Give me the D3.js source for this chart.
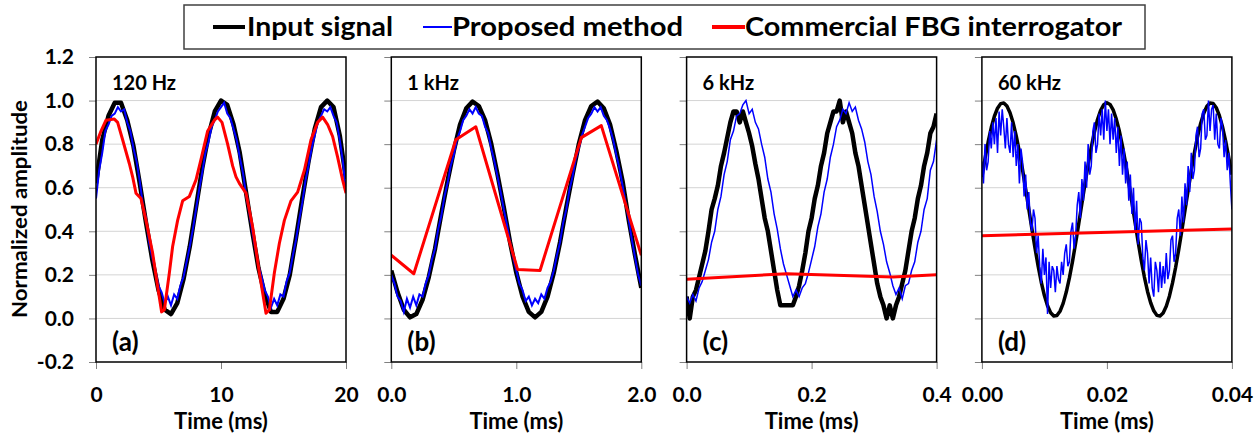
<!DOCTYPE html>
<html>
<head>
<meta charset="utf-8">
<script src="https://cdn.jsdelivr.net/npm/d3@7"></script>
<style>
  body { margin: 0; background: #fff; }
  svg text { font-family: Lato, "Open Sans", sans-serif; font-weight: bold; fill: #000; }
</style>
</head>
<body>
<svg id="chart" width="1260" height="441"></svg>
<script>
// legend + panel labels
var seriesNames = ["Input signal", "Proposed method", "Commercial FBG interrogator"];
var freqLabels = ["120 Hz", "1 kHz", "6 kHz", "60 kHz"];
var panelLetters = ["(a)", "(b)", "(c)", "(d)"];
var xMax = [20, 2.0, 0.4, 0.04];
var xTicks = [[0, 10, 20], [0, 1, 2], [0, 0.2, 0.4], [0, 0.02, 0.04]];
var xFormats = [".0f", ".1f", ".1f", ".2f"];
var yTicks = [-0.2, 0, 0.2, 0.4, 0.6, 0.8, 1.0, 1.2];
var gridVals = [0, 0.2, 0.4, 0.6, 0.8, 1.0];

// (a) 120 Hz, 0-20 ms
var blackA = [0.62,0.82,0.93,0.99,0.99,0.91,0.79,0.62,0.44,0.27,0.13,0.04,0.02,0.07,0.18,0.33,0.51,0.69,0.84,0.95,1.0,
  0.98,0.89,0.76,0.58,0.40,0.23,0.11,0.03,0.03,0.09,0.20,0.37,0.55,0.72,0.87,0.97,1.0,0.97,0.84,0.64];
var blueA = [0.55,0.68,0.76,0.86,0.89,0.93,0.94,0.97,0.95,0.96,0.90,0.86,0.78,0.72,0.63,0.52,0.46,0.35,0.28,0.22,
  0.15,0.12,0.07,0.10,0.06,0.11,0.09,0.15,0.19,0.26,0.33,0.41,0.50,0.59,0.67,0.76,0.81,0.88,0.91,0.95,
  0.97,0.99,0.94,0.92,0.87,0.82,0.74,0.67,0.57,0.49,0.40,0.32,0.24,0.19,0.13,0.10,0.05,0.09,0.06,0.11,
  0.10,0.17,0.21,0.29,0.36,0.45,0.53,0.63,0.70,0.78,0.84,0.90,0.93,0.96,0.95,0.97,0.93,0.90,0.82,0.72,0.58];
var redTA = [0,0.4,0.8,1.47,1.73,2.13,2.67,2.93,3.2,3.6,4.0,4.53,4.93,5.25,5.47,5.87,6.13,6.53,6.93,7.47,8.0,8.4,8.93,
  9.47,9.73,10.08,10.53,10.93,11.2,11.47,12.0,12.53,13.07,13.6,13.87,14.27,14.67,15.07,15.6,16.13,16.67,17.2,
  17.73,18.13,18.53,18.93,19.33,19.73,20];
var redVA = [0.80,0.86,0.91,0.915,0.90,0.82,0.71,0.65,0.575,0.55,0.45,0.30,0.147,0.03,0.04,0.21,0.33,0.45,0.54,0.56,
  0.636,0.73,0.86,0.91,0.924,0.90,0.80,0.70,0.65,0.62,0.575,0.42,0.21,0.024,0.04,0.21,0.345,0.45,0.54,0.58,
  0.68,0.82,0.90,0.924,0.89,0.835,0.74,0.636,0.575];

// (b) 1 kHz, 0-2 ms
var blackB = [0.22,0.12,0.04,0.005,0.02,0.085,0.19,0.32,0.48,0.63,0.77,0.89,0.965,0.995,0.975,0.91,0.80,0.66,0.51,0.35,
  0.21,0.10,0.03,0.005,0.03,0.10,0.21,0.35,0.51,0.66,0.80,0.91,0.975,0.995,0.965,0.89,0.77,0.63,0.45,0.29,0.14];
var blueB = [0.20,0.16,0.10,0.08,0.03,0.09,0.05,0.10,0.06,0.11,0.10,0.16,0.20,0.27,0.32,0.41,0.47,0.56,0.62,0.70,
  0.75,0.82,0.86,0.91,0.93,0.96,0.94,0.97,0.94,0.93,0.88,0.85,0.78,0.72,0.65,0.58,0.50,0.43,0.35,0.28,
  0.22,0.16,0.13,0.08,0.10,0.06,0.09,0.07,0.11,0.09,0.14,0.17,0.22,0.29,0.35,0.44,0.50,0.59,0.65,0.73,
  0.78,0.84,0.88,0.92,0.94,0.97,0.95,0.97,0.93,0.91,0.87,0.82,0.75,0.69,0.61,0.53,0.45,0.36,0.28,0.20,0.15];
var redTB = [0,0.18,0.516,0.676,1.01,1.19,1.52,1.68,2.0];
var redVB = [0.29,0.205,0.82,0.88,0.225,0.22,0.83,0.885,0.29];

// (c) 6 kHz, 0-0.4 ms
var blackC = [0.10,0.0,0.10,0.13,0.19,0.25,0.31,0.40,0.50,0.55,0.61,0.70,0.76,0.83,0.90,0.95,0.95,0.90,0.95,0.90,
  0.85,0.79,0.71,0.64,0.55,0.46,0.40,0.31,0.22,0.13,0.06,0.06,0.06,0.06,0.06,0.10,0.15,0.22,0.30,0.40,
  0.46,0.55,0.61,0.70,0.76,0.85,0.90,0.95,0.95,1.0,0.90,0.95,0.90,0.85,0.76,0.70,0.61,0.52,0.43,0.34,
  0.25,0.16,0.10,0.06,0.0,0.06,0.0,0.06,0.10,0.16,0.22,0.31,0.40,0.46,0.55,0.61,0.70,0.76,0.85,0.88,0.94];
var blueC = [0.10,0.07,0.11,0.08,0.14,0.17,0.22,0.27,0.35,0.40,0.50,0.56,0.66,0.72,0.82,0.86,0.93,0.94,0.98,1.0,
  0.94,0.96,0.90,0.87,0.80,0.74,0.64,0.58,0.48,0.41,0.32,0.25,0.20,0.15,0.10,0.13,0.10,0.14,0.16,0.21,
  0.27,0.33,0.42,0.48,0.58,0.64,0.74,0.80,0.88,0.91,0.96,0.94,0.99,0.95,0.97,0.91,0.87,0.81,0.72,0.66,
  0.56,0.49,0.40,0.34,0.26,0.21,0.15,0.11,0.14,0.09,0.15,0.16,0.22,0.26,0.35,0.40,0.50,0.55,0.68,0.72,0.82];
var redTC = [0,0.16,0.33,0.4];
var redVC = [0.18,0.205,0.19,0.20];

// (d) 60 kHz, 0-0.04 ms
var blackD = [0.649,0.734,0.81,0.876,0.928,0.965,0.986,0.989,0.975,0.944,0.898,0.837,0.765,0.683,0.594,0.502,0.411,0.322,0.24,0.166,
  0.105,0.058,0.026,0.011,0.013,0.033,0.069,0.121,0.186,0.262,0.346,0.436,0.528,0.619,0.706,0.786,0.855,0.913,0.955,0.981,
  0.99,0.982,0.957,0.915,0.859,0.79,0.711,0.624,0.533,0.441,0.351,0.266,0.19,0.124,0.072,0.035,0.014,0.011,0.025,0.056,
  0.102,0.163,0.235,0.317,0.405,0.498,0.589,0.678,0.76,0.834,0.895,0.942,0.974,0.989,0.987,0.967,0.931,0.879,0.814,0.738,0.66];
var blueD = [0.72,0.62,0.80,0.68,0.72,0.86,0.78,0.90,0.80,0.92,0.76,0.95,0.84,0.96,0.88,0.78,0.92,0.80,0.76,0.90,
  0.74,0.86,0.70,0.80,0.62,0.78,0.72,0.56,0.66,0.50,0.58,0.44,0.40,0.50,0.46,0.30,0.38,0.24,0.16,0.32,
  0.20,0.28,0.02,0.26,0.14,0.24,0.22,0.12,0.24,0.18,0.16,0.26,0.20,0.30,0.34,0.24,0.26,0.40,0.44,0.32,
  0.38,0.52,0.58,0.46,0.64,0.54,0.72,0.60,0.80,0.66,0.70,0.86,0.90,0.76,0.80,0.94,0.84,0.96,0.82,1.00,
  0.86,0.96,0.80,0.94,0.82,0.92,0.76,0.88,0.70,0.84,0.66,0.78,0.62,0.72,0.54,0.66,0.48,0.60,0.40,0.54,
  0.34,0.46,0.44,0.28,0.22,0.36,0.30,0.16,0.28,0.14,0.10,0.26,0.22,0.12,0.26,0.14,0.24,0.16,0.30,0.18,
  0.22,0.36,0.38,0.26,0.30,0.46,0.50,0.38,0.56,0.44,0.62,0.52,0.70,0.58,0.76,0.64,0.68,0.84,0.88,0.74,
  0.78,0.94,0.96,0.82,0.84,1.00,0.86,0.96,0.98,0.82,0.94,0.80,0.78,0.92,0.88,0.74,0.82,0.68,0.76,0.62,0.50];
var redTD = [0, 0.04];
var redVD = [0.38, 0.41];

var colors = ["#000000", "#0000ff", "#ff0000"];

var panels = [
  {black: blackA, blue: blueA, redT: redTA, redV: redVA, bw: 4.5, uw: 2},
  {black: blackB, blue: blueB, redT: redTB, redV: redVB, bw: 4.5, uw: 2},
  {black: blackC, blue: blueC, redT: redTC, redV: redVC, bw: 4.5, uw: 1.5},
  {black: blackD, blue: blueD, redT: redTD, redV: redVD, bw: 3.5, uw: 1.5}
];

var svg = d3.select("#chart");
var plotTop = 57, plotBottom = 362, pw = 250;

var y = d3.scaleLinear().domain([-0.2, 1.2]).range([plotBottom, plotTop]);
var yFmt = d3.format(".1f");

function toPoints(vals, xm) {
  // evenly sampled trace over the full time window
  return vals.map(function(v, i) { return [i * xm / (vals.length - 1), v]; });
}

panels.forEach(function(p, i) {
  var left = 96 + i * 295.3;
  var x = d3.scaleLinear().domain([0, xMax[i]]).range([left, left + pw]);
  var g = svg.append("g");

  g.append("clipPath").attr("id", "clip" + i)
    .append("rect").attr("x", left).attr("y", plotTop).attr("width", pw).attr("height", plotBottom - plotTop);

  // gridlines
  g.selectAll(".grid").data(gridVals).enter().append("line")
    .attr("x1", left).attr("x2", left + pw)
    .attr("y1", d => y(d)).attr("y2", d => y(d))
    .attr("stroke", "#d4d4d4").attr("stroke-width", 1);

  // axes
  var ya = d3.axisLeft(y).tickValues(yTicks).tickSize(7).tickPadding(15);
  if (i == 0) ya.tickFormat(d => yFmt(d).replace("\u2212", "-")); else ya.tickFormat("");
  var gy = g.append("g").attr("transform", `translate(${left},0)`).call(ya);
  gy.select(".domain").remove();
  gy.selectAll("line").attr("stroke", "#808080");
  gy.selectAll("text").attr("font-size", 21).attr("font-family", "Lato, sans-serif").attr("font-weight", "bold");

  var xa = d3.axisBottom(x).tickValues(xTicks[i]).tickSize(7).tickPadding(18)
    .tickFormat(d3.format(xFormats[i]));
  var gx = g.append("g").attr("transform", `translate(0,${plotBottom})`).call(xa);
  gx.select(".domain").remove();
  gx.selectAll("line").attr("stroke", "#808080");
  gx.selectAll("text").attr("font-size", 21).attr("font-family", "Lato, sans-serif").attr("font-weight", "bold");

  g.append("text")
    .attr("x", left + pw / 2).attr("y", 429)
    .attr("text-anchor", "middle").attr("font-size", 22)
    .text("Time (ms)");

  // traces
  var line = d3.line().x(d => x(d[0])).y(d => y(d[1]));
  var lines = g.append("g").attr("clip-path", `url(#clip${i})`);
  lines.append("path")
    .attr("d", line(toPoints(p.black, xMax[i])))
    .attr("fill", "none").attr("stroke", colors[0]).attr("stroke-width", p.bw)
    .attr("stroke-linejoin", "round");
  lines.append("path")
    .attr("d", line(toPoints(p.blue, xMax[i])))
    .attr("fill", "none").attr("stroke", colors[1]).attr("stroke-width", p.uw);
  lines.append("path")
    .attr("d", line(p.redT.map((t, k) => [t, p.redV[k]])))
    .attr("fill", "none").attr("stroke", colors[2]).attr("stroke-width", 3)
    .attr("stroke-linejoin", "round");

  // frame
  g.append("rect")
    .attr("x", left).attr("y", plotTop).attr("width", pw).attr("height", plotBottom - plotTop)
    .attr("fill", "none").attr("stroke", "#000").attr("stroke-width", 1.5);

  g.append("text").attr("x", left + 16).attr("y", 90).attr("font-size", 20).text(freqLabels[i]);
  g.append("text").attr("x", left + 16).attr("y", 351).attr("font-size", 26).text(panelLetters[i]);
});

// y title
svg.append("text")
  .attr("transform", "translate(27,209) rotate(-90)")
  .attr("text-anchor", "middle").attr("font-size", 20)
  .attr("textLength", 218).attr("lengthAdjust", "spacingAndGlyphs")
  .text("Normalized amplitude");

// legend
var leg = svg.append("g");
leg.append("rect").attr("x", 184).attr("y", 5).attr("width", 961).attr("height", 44)
  .attr("fill", "#fff").attr("stroke", "#404040").attr("stroke-width", 1.5);
var legItems = [
  {x1: 213, x2: 245, tx: 247, tw: 146, w: 4},
  {x1: 423, x2: 452, tx: 452, tw: 231, w: 2},
  {x1: 712, x2: 745, tx: 745, tw: 377, w: 4}
];
legItems.forEach(function(d, k) {
  leg.append("line").attr("x1", d.x1).attr("x2", d.x2).attr("y1", 27).attr("y2", 27)
    .attr("stroke", colors[k]).attr("stroke-width", d.w);
  leg.append("text").attr("x", d.tx).attr("y", 36).attr("font-size", 27)
    .attr("textLength", d.tw).attr("lengthAdjust", "spacingAndGlyphs")
    .text(seriesNames[k]);
});
</script>
</body>
</html>
